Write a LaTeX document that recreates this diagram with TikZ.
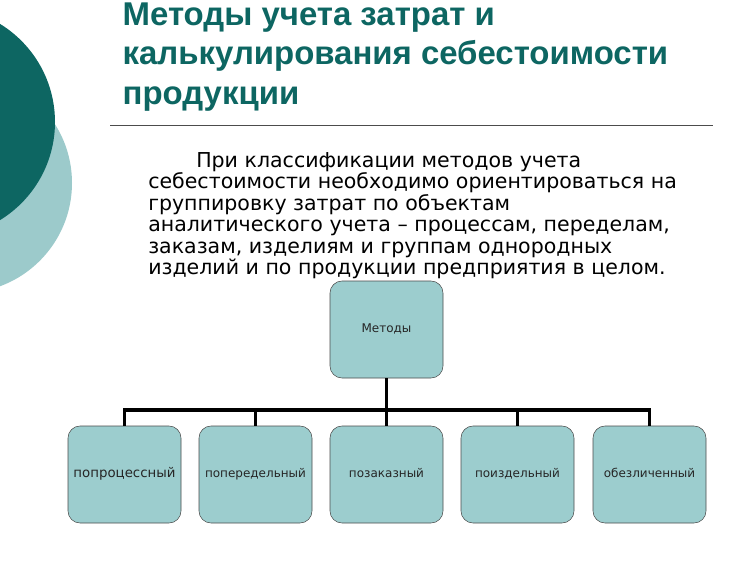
\documentclass[tikz,border=0pt]{standalone}
\usepackage{fontspec}
\setmainfont{Liberation Sans}
\newfontfamily\dv{DejaVu Sans}
\begin{document}
\begin{tikzpicture}[x=0.75pt,y=-0.75pt,
  box/.style={draw=black!70,fill=boxc,rounded corners=9pt,minimum width=84.75pt,minimum height=72.75pt,inner sep=0pt,font=\dv\fontsize{9pt}{10pt}\selectfont,text=black!85,text height=6.5pt,text depth=2pt},
  wire/.style={line width=2.8pt}]
\definecolor{teal1}{HTML}{0D6662}
\definecolor{teal2}{HTML}{9CCACB}
\definecolor{boxc}{HTML}{9CCDCE}
\useasboundingbox (0,0) rectangle (750,562);
\fill[white] (0,0) rectangle (750,562);
\begin{scope}
\clip (0,0) rectangle (750,562);
\fill[teal2] (-38,183) circle (110);
\fill[teal1] (-60,122) circle (115);
\end{scope}
\node[anchor=west,text=teal1,font=\bfseries\fontsize{24.7pt}{29.5pt}\selectfont,align=left] (title) at (118,57) {Методы учета затрат и\\калькулирования себестоимости\\продукции};
\draw[black!70,line width=0.6pt] (110,125) -- (713,125);
\node[anchor=north west,align=left,inner sep=0pt,font=\dv\fontsize{15.4pt}{16.1pt}\selectfont] (body) at (148,152) {\hspace*{36pt}При классификации методов учета\\себестоимости необходимо ориентироваться на\\группировку затрат по объектам\\аналитического учета – процессам, переделам,\\заказам, изделиям и группам однородных\\изделий и по продукции предприятия в целом.};
\node[box] (m) at (386.5,329.5) {Методы};
\node[box,font=\dv\fontsize{10pt}{11pt}\selectfont] (a) at (124.5,474.5) {попроцессный};
\node[box] (b) at (255.5,474.5) {попередельный};
\node[box] (c) at (386.5,474.5) {позаказный};
\node[box] (d) at (517.5,474.5) {поиздельный};
\node[box] (e) at (649.5,474.5) {обезличенный};
\coordinate (bus) at (386.5,410);
\draw[wire] (m.south) -- (bus);
\draw[wire] (a.north) |- (bus) -| (e.north);
\foreach \n in {b,c,d} \draw[wire] (\n.north) -- (\n.north |- bus);
\end{tikzpicture}
\end{document}
